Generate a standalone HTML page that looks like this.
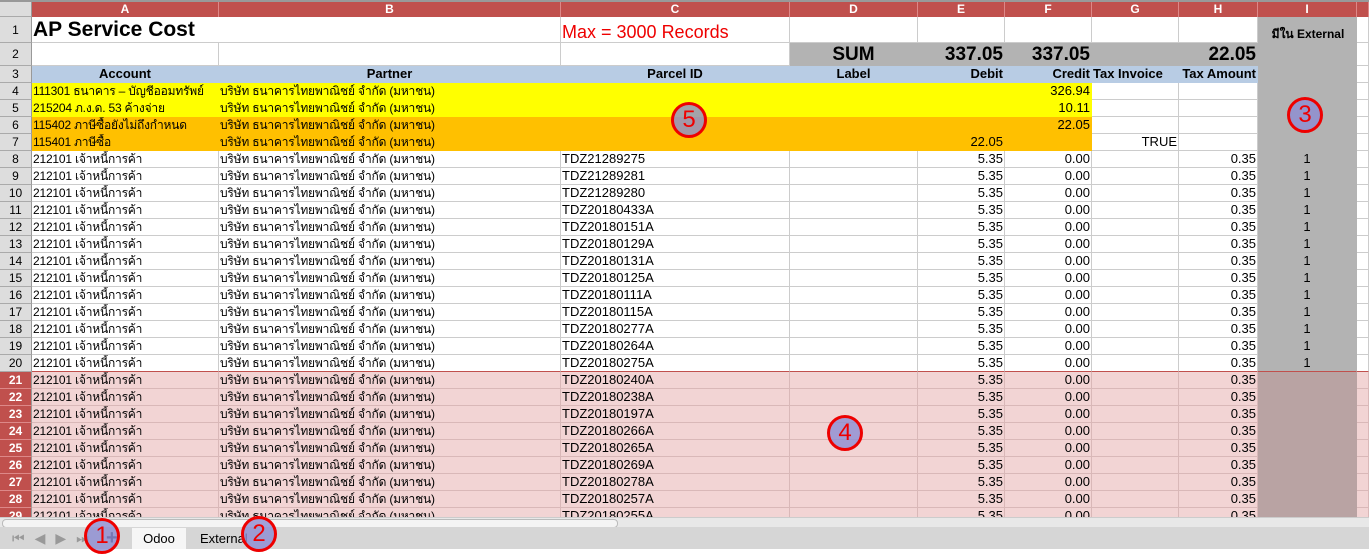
<!DOCTYPE html>
<html><head><meta charset="utf-8">
<style>
body{margin:0;width:1369px;height:549px;overflow:hidden;background:#fff;font-family:"Liberation Sans","DejaVu Sans",sans-serif;position:relative}
.c{position:absolute;box-sizing:border-box;border-right:1px solid #ccc;border-bottom:1px solid #ccc;font-size:13px;line-height:16px;white-space:nowrap;overflow:hidden;padding:0 1px;color:#000}
.t{font-size:12px;letter-spacing:-0.2px}
.h{position:absolute;box-sizing:border-box;background:#c0504d;color:#fff;font-size:12px;font-weight:bold;text-align:center;border-right:1px solid #d88;}
.rn{position:absolute;box-sizing:border-box;left:0;width:32px;background:#ddd;border-right:1px solid #999;border-bottom:1px solid #aaa;font-size:12px;text-align:center;color:#000}
.rn.p{background:#c0504d;color:#fff;font-weight:bold;border-bottom:1px solid #d88}
.r{text-align:right}.ctr{text-align:center}.b{font-weight:bold}
.circ{position:absolute;border:3px solid #e00;border-radius:50%;background:rgba(140,140,210,.8);color:#e00;font-size:24px;text-align:center;box-sizing:border-box;width:36px;height:36px;line-height:30px}
</style></head><body>
<div id="g"></div>
<div style="position:absolute;left:0;top:517px;width:1369px;height:10px;background:#e8e8e8;border-top:1px solid #ccc"><div style="position:absolute;left:2px;top:1px;width:614px;height:7px;border:1px solid #bbb;border-radius:4px;background:#f4f4f4"></div></div>
<div style="position:absolute;left:0;top:527px;width:1369px;height:22px;background:#d6d6d6"></div>
<div style="position:absolute;left:12px;top:530px;font-size:14px;color:#999;letter-spacing:10px">⏮◀▶⏭</div>
<div style="position:absolute;left:106px;top:527px;font-size:20px;font-weight:bold;color:#223">+</div>
<div style="position:absolute;left:132px;top:528px;width:54px;height:21px;background:#f6f6f6;font-size:13px;text-align:center;line-height:21px">Odoo</div>
<div style="position:absolute;left:200px;top:528px;font-size:13px;line-height:21px">External</div>
<div class="circ" style="left:671px;top:102px">5</div>
<div class="circ" style="left:1287px;top:97px">3</div>
<div class="circ" style="left:827px;top:415px">4</div>
<div class="circ" style="left:84px;top:518px">1</div>
<div class="circ" style="left:241px;top:516px">2</div>
<script>
const cols=[["A",32,219],["B",219,561],["C",561,790],["D",790,918],["E",918,1005],["F",1005,1092],["G",1092,1179],["H",1179,1258],["I",1258,1357],["",1357,1369]];
const g=document.getElementById('g');
function add(cls,x,y,w,h,txt,style,name){const d=document.createElement('div');d.className=cls;d.style.cssText=`left:${x}px;top:${y}px;width:${w}px;height:${h}px;`+(style||'');d.textContent=txt||'';


g.appendChild(d);return d;}
add('c',0,0,1369,17,'','background:#ddd;border:0;border-top:2px solid #999','header-bar');
cols.forEach(c=>add('h',c[1],2,c[2]-c[1],15,c[0],'line-height:15px','column-header'));
add('rn',0,2,32,15,'','background:#ddd','corner-cell');
const rowY=[17,43,66,83];for(let i=4;i<=29;i++)rowY.push(83+(i-3)*17);
const acct="212101 เจ้าหนี้การค้า",partner="บริษัท ธนาคารไทยพาณิชย์ จำกัด (มหาชน)";
const parcels=["TDZ21289275","TDZ21289281","TDZ21289280","TDZ20180433A","TDZ20180151A","TDZ20180129A","TDZ20180131A","TDZ20180125A","TDZ20180111A","TDZ20180115A","TDZ20180277A","TDZ20180264A","TDZ20180275A","TDZ20180240A","TDZ20180238A","TDZ20180197A","TDZ20180266A","TDZ20180265A","TDZ20180269A","TDZ20180278A","TDZ20180257A","TDZ20180255A"];
const top4=[["111301 ธนาคาร – บัญชีออมทรัพย์","","326.94","","#ff0"],["215204 ภ.ง.ด. 53 ค้างจ่าย","","10.11","","#ff0"],["115402 ภาษีซื้อยังไม่ถึงกำหนด","","22.05","","#ffc000"],["115401 ภาษีซื้อ","22.05","","TRUE","#ffc000"]];
for(let r=1;r<=29;r++){
 const y=rowY[r-1],h=rowY[r]-y;const pink=r>=21;
 add('rn'+(pink?' p':''),0,y,32,h,String(r),`line-height:${h}px`,'row-header');
 cols.forEach((c,i)=>{
  let txt='',st='',cl='c';const w=c[2]-c[1];
  if(pink)st+='background:#f2d4d4;border-color:#d9b8b8;';
  if(r===1&&i===0){txt='AP Service Cost';st+='font-size:21px;font-weight:bold;line-height:26px;overflow:visible;border-right:0';}
  if(r===1&&i===2){txt='Max = 3000 Records';st+='color:#e00;font-size:18px;line-height:30px;overflow:visible';}
  if(r===2&&i>=3&&i<=7){st+='background:#b3b3b3;border-color:#b3b3b3;font-weight:bold;font-size:19px;line-height:24px;';cl+=' r';txt=['SUM','337.05','337.05','','22.05'][i-3];if(i==3)cl='c ctr';}
  if(r===3&&i<=7){st+='background:#b8cce4;border-color:#b8cce4;font-weight:bold;';txt=['Account','Partner','Parcel ID','Label','Debit','Credit','Tax Invoice','Tax Amount'][i];cl+=i<3||i==3?' ctr':' r';if(i==6)cl='c';}
  if(r>=4&&r<=7){const t=top4[r-4];if(i<=5)st+=`background:${t[4]};border-color:${t[4]};`;
   if(i==0){txt=t[0];cl+=' t';}if(i==1){txt=partner;cl+=' t';}if(i==4){txt=t[1];cl+=' r';}if(i==5){txt=t[2];cl+=' r';}if(i==6){txt=t[3];cl+=' r';}}
  if(r>=8){const p=parcels[r-8];if(i==0){txt=acct;cl+=' t';}if(i==1){txt=partner;cl+=' t';}if(i==2)txt=p;if(i==4){txt='5.35';cl+=' r';}if(i==5){txt='0.00';cl+=' r';}if(i==7){txt='0.35';cl+=' r';}}
  if(i==8){if(r<=20){st+='background:#b3b3b3;border-color:#b3b3b3;';if(r>=8){txt='1';cl+=' ctr';}}else st+='background:#b9a3a3;border-color:#b9a3a3;';}
  if(r==20)st+='border-bottom:1px solid #c0504d;';
  add(cl,c[1],y,w,h,txt,st,'cell-'+(c[0]||'x')+r);
 });
}
add('c',1262,26,92,16,'มีใน External','background:transparent;border:0;font-weight:bold;font-size:12px;text-align:center','external-flag-header');
</script>
</body></html>
